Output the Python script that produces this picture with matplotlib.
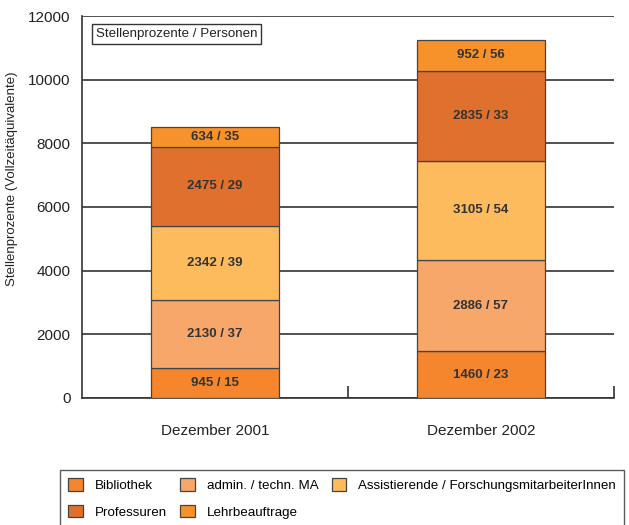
import matplotlib.pyplot as plt
from matplotlib.patches import Patch

plt.rcParams['font.family'] = ['Liberation Sans', 'DejaVu Sans']

# Daten
kategorien = ["Dezember 2001", "Dezember 2002"]
gruppen = ["Bibliothek", "admin. / techn. MA", "Assistierende / ForschungsmitarbeiterInnen",
           "Professuren", "Lehrbeauftrage"]
stellenprozente = {
    "Bibliothek": [945, 1460],
    "admin. / techn. MA": [2130, 2886],
    "Assistierende / ForschungsmitarbeiterInnen": [2342, 3105],
    "Professuren": [2475, 2835],
    "Lehrbeauftrage": [634, 952],
}
personen = {
    "Bibliothek": [15, 23],
    "admin. / techn. MA": [37, 57],
    "Assistierende / ForschungsmitarbeiterInnen": [39, 54],
    "Professuren": [29, 33],
    "Lehrbeauftrage": [35, 56],
}
farben = {
    "Bibliothek": "#F5862D",
    "admin. / techn. MA": "#F8A76B",
    "Assistierende / ForschungsmitarbeiterInnen": "#FDBB5E",
    "Professuren": "#E0702E",
    "Lehrbeauftrage": "#F7922B",
}

fig = plt.figure(figsize=(6.29, 5.25), dpi=100)
ax = fig.add_axes([0.130, 0.242, 0.846, 0.7275])

x = [0.5, 1.5]
unten = [0, 0]
for g in gruppen:
    werte = stellenprozente[g]
    ax.bar(x, werte, width=0.48, bottom=unten, color=farben[g],
           edgecolor="#444444", linewidth=0.9, zorder=3)
    for i in range(len(x)):
        ax.text(x[i], unten[i] + werte[i] / 2, f"{werte[i]} / {personen[g][i]}",
                ha="center", va="center", fontsize=9.5, fontweight="bold",
                color="#333333", zorder=4)
    unten = [unten[i] + werte[i] for i in range(len(x))]

ax.set_xlim(0, 2)
ax.set_ylim(0, 12000)
ax.set_yticks(range(0, 12001, 2000))
ax.tick_params(axis="y", length=0, pad=8, labelsize=11, labelcolor="#222222")
ax.set_xticks(x)
ax.set_xticklabels(kategorien)
ax.tick_params(axis="x", which="major", length=0, pad=19, labelsize=11, labelcolor="#222222")
ax.set_xticks([1, 2], minor=True)
ax.tick_params(axis="x", which="minor", direction="in", length=9, width=1.2, color="#333333")

ax.yaxis.grid(True, color="#333333", linewidth=1.2, zorder=0)
ax.set_axisbelow(True)
for s in ["top", "right"]:
    ax.spines[s].set_visible(False)
for s in ["left", "bottom"]:
    ax.spines[s].set_color("#333333")
    ax.spines[s].set_linewidth(1.2)

fig.text(0.019, 0.659, "Stellenprozente (Vollzeitäquivalente)", rotation=90,
         ha="center", va="center", fontsize=9.5, color="#222222")

ax.text(0.026, 0.953, "Stellenprozente / Personen", transform=ax.transAxes,
        ha="left", va="center", fontsize=9.6, color="#222222",
        bbox=dict(boxstyle="square,pad=0.3", facecolor="white", edgecolor="#333333", linewidth=1))

reihenfolge = ["Bibliothek", "Professuren", "admin. / techn. MA", "Lehrbeauftrage",
               "Assistierende / ForschungsmitarbeiterInnen"]
handles = [Patch(facecolor=farben[g], edgecolor="#444444", linewidth=0.9) for g in reihenfolge]
leg = fig.legend(handles, reihenfolge, ncol=3, loc="upper left",
                 bbox_to_anchor=(60 / 629, 1 - 470 / 525), fontsize=9.6,
                 handlelength=1.1, handleheight=1.1, handletextpad=0.9,
                 columnspacing=1.0, labelspacing=0.95, borderpad=0.6,
                 borderaxespad=0, fancybox=False, frameon=True)
leg.get_frame().set_edgecolor("#333333")
leg.get_frame().set_linewidth(1)

fig.savefig("out.png", dpi=100)
